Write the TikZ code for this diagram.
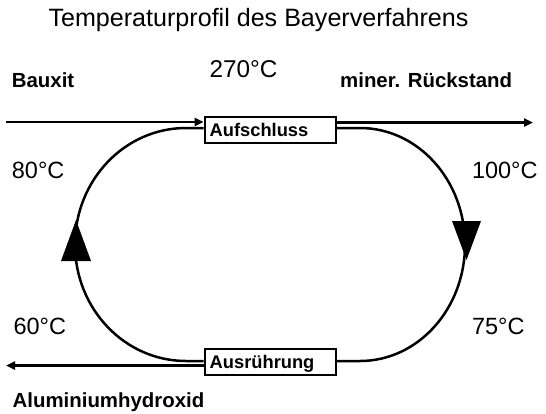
\documentclass[tikz,border=0pt]{standalone}
\usepackage{fontspec}
\setmainfont{Liberation Sans}
\usetikzlibrary{arrows.meta}
\begin{document}
\begin{tikzpicture}[x=1pt,y=-1pt,
  lbl/.style={anchor=base west,inner sep=0pt},
  tlbl/.style={lbl,font=\fontsize{23.5}{28}\selectfont},
  blbl/.style={lbl,font=\fontsize{20.4}{24}\selectfont\bfseries},
  stage/.style={draw,line width=2pt,minimum width=131pt,minimum height=26.5pt,
    text width=121pt,align=left,inner xsep=5pt,inner ysep=0pt,
    text height=12.8pt,text depth=0pt,font=\fontsize{18.3}{22}\selectfont\bfseries},
  flow/.style={line width=2.5pt,-{Triangle[length=9pt,width=8pt]}},
  cycleline/.style={line width=2.5pt}]
\useasboundingbox (0,0) rectangle (546,413);
\fill[white] (0,0) rectangle (546,413);
% title and labels
\node[anchor=base,inner sep=0pt,font=\fontsize{25.1}{30}\selectfont] (title) at (258.5,26) {Temperaturprofil des Bayerverfahrens};
\node[tlbl,font=\fontsize{24.3}{29}\selectfont] (t270) at (209.3,77.5) {270°C};
\node[blbl] (bauxit) at (11.7,87) {Bauxit};
\node[blbl] (rueck) at (340,87) {miner. Rückstand};
\node[tlbl] (t80) at (11.7,178.5) {80°C};
\node[tlbl] (t100) at (471.8,178.5) {100°C};
\node[tlbl] (t60) at (13.3,334) {60°C};
\node[tlbl] (t75) at (471.8,334) {75°C};
\node[blbl] (alu) at (12.5,407) {Aluminiumhydroxid};
% stages
\node[stage] (A) at (270.2,130.2) {Aufschluss};
\node[stage] (B) at (270.2,361.8) {Ausrührung};
% straight flows
\coordinate (bin) at (6,122);
\coordinate (mout) at (533,122.5);
\coordinate (aout) at (6,365.5);
\draw[flow] (bin) -- (A.west |- bin);
\draw[flow] (A.east |- mout) -- (mout);
\draw[flow] (B.west |- aout) -- (aout);
% cycle
\coordinate (Ain) at (A.west |- 0,128);
\coordinate (Aout) at (A.east |- 0,128);
\coordinate (Bin) at (B.east |- 0,361);
\coordinate (Bout) at (B.west |- 0,361);
\draw[cycleline] (Bout) -- (186,361)
  .. controls (124.7,361) and (75,308.8) .. (75,244.5)
  .. controls (75,180.2) and (124.7,128) .. (186,128) -- (Ain);
\draw[cycleline] (Aout) -- (360,128)
  .. controls (418,128) and (465,180.2) .. (465,244.5)
  .. controls (465,308.8) and (418,361) .. (360,361) -- (Bin);
% direction marks
\fill (61,261) -- (91,261) -- (76,220) -- cycle;
\fill (452,221) -- (481,221) -- (466.5,260) -- cycle;
\end{tikzpicture}
\end{document}
